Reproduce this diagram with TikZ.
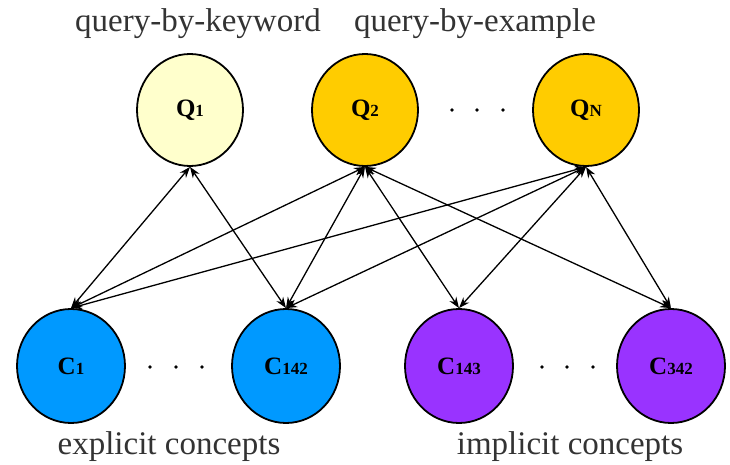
\documentclass[tikz,border=0pt]{standalone}
\usepackage{fontspec}
\setmainfont{Liberation Serif}
\usetikzlibrary{shapes.geometric,arrows.meta}
\definecolor{qlight}{HTML}{FFFFCC}
\definecolor{qgold}{HTML}{FFCC00}
\definecolor{cblue}{HTML}{0099FF}
\definecolor{cpurple}{HTML}{9933FF}
\definecolor{txt}{HTML}{333333}
\tikzset{
  qnode/.style={ellipse, draw=black, line width=1.8pt, minimum width=106pt, minimum height=112pt, inner sep=0pt, font=\fontsize{25}{25}\selectfont\bfseries},
  cnode/.style={ellipse, draw=black, line width=1.8pt, minimum width=108pt, minimum height=114pt, inner sep=0pt, font=\fontsize{25}{25}\selectfont\bfseries},
  lbl/.style={anchor=base, text=txt, font=\fontsize{33}{33}\selectfont, inner sep=0pt},
  link/.style={line width=1.3pt, {Stealth[length=11pt,width=8pt]}-{Stealth[length=11pt,width=8pt]}},
  dotm/.style={fill=black}
}
\newcommand{\sbs}[1]{{\fontsize{17}{17}\selectfont #1}}
\begin{document}
\begin{tikzpicture}[x=1pt,y=-1pt]
\useasboundingbox (0,0) rectangle (730,465);
\node[qnode, fill=qlight] (q1) at (190,110) {Q\sbs{1}};
\node[qnode, fill=qgold] (q2) at (365,110) {Q\sbs{2}};
\node[qnode, fill=qgold] (qn) at (586,110) {Q\sbs{N}};
\node[cnode, fill=cblue] (c1) at (71,366) {C\sbs{1}};
\node[cnode, fill=cblue] (c142) at (286,366) {C\sbs{142}};
\node[cnode, fill=cpurple] (c143) at (459,366) {C\sbs{143}};
\node[cnode, fill=cpurple] (c342) at (671,366) {C\sbs{342}};
\node[lbl] (lk) at (198,32) {query-by-keyword};
\node[lbl] (le) at (475,32) {query-by-example};
\node[lbl] (lx) at (169,454) {explicit concepts};
\node[lbl] (li) at (570,454) {implicit concepts};
\foreach \x in {452,477,503} \fill[dotm] (\x,110) circle (1.8pt);
\foreach \x in {150,176,202} \fill[dotm] (\x,367) circle (1.8pt);
\foreach \x in {542,567,593} \fill[dotm] (\x,367) circle (1.8pt);
\draw[link] (q1.south) -- (c1.north);
\draw[link] (q1.south) -- (c142.north);
\draw[link] (q2.south) -- (c1.north);
\draw[link] (q2.south) -- (c142.north);
\draw[link] (q2.south) -- (c143.north);
\draw[link] (q2.south) -- (c342.north);
\draw[link] (qn.south) -- (c1.north);
\draw[link] (qn.south) -- (c142.north);
\draw[link] (qn.south) -- (c143.north);
\draw[link] (qn.south) -- (c342.north);
\end{tikzpicture}
\end{document}
